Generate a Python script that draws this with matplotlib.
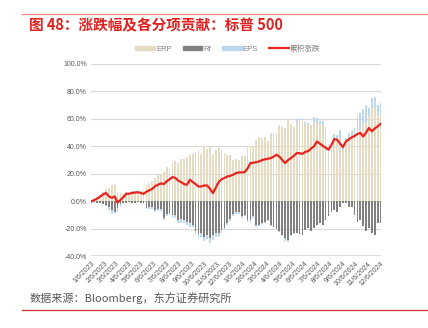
import pandas as pd
import numpy as np
from matplotlib import pyplot as plt
from matplotlib.patches import Patch
from matplotlib.lines import Line2D

plt.rcParams['font.family'] = ['Liberation Sans', 'Noto Sans CJK SC', 'DejaVu Sans']

# weekly observations, % contribution
dates = pd.date_range('2023-01-06', periods=101, freq='7D')

erp = [1, 2, 3, 4, 6, 9, 10, 12, 12, 7,
       6, 5, 6, 6, 7, 7, 7, 7, 8, 12,
       13, 15, 17, 19, 20, 21, 25, 24, 27.8, 29,
       28, 30.7, 31, 32, 34, 34.5, 35, 37, 34.4, 40,
       38, 39.5, 34, 37.5, 38.8, 37.5, 35, 34, 34, 30,
       31, 30, 32.6, 33, 39.5, 40, 40.5, 44.8, 47, 46,
       47, 43.6, 49.7, 50, 50, 55.8, 54, 53, 59.4, 56,
       54, 58, 58, 59, 57, 55.8, 54.5, 58, 57, 56,
       55.8, 53.4, 41, 40, 44.8, 43.6, 46, 37.5, 43.6, 46,
       46, 48, 52, 52, 57, 58, 62, 68, 68, 63,
       63]

rf = [-0.5, -0.5, -1, -1.5, -2, -2.6, -4, -6.3, -7.5, -5,
      -2, -1, -1, -0.5, -1, -1, -0.5, -1, -1, -5,
      -4, -4, -6.3, -6, -6, -12.4, -9, -8.7, -10, -10,
      -13.6, -13, -13.6, -15, -16, -17, -22, -24, -23, -26,
      -24.5, -27, -24.5, -23, -23, -21, -19.6, -16, -13, -9,
      -7.5, -8, -11, -10, -13.6, -13.6, -11, -17, -17, -15.5,
      -14.8, -13.6, -17, -18.5, -20, -22, -24.5, -27, -28, -24.5,
      -23, -23, -24, -24.5, -21, -19.6, -22, -19.6, -17, -16,
      -17, -14, -11, -7.5, -6.3, -7.5, -4, -1, -1.5, -4,
      -4, -10, -14.8, -13.6, -18, -22, -19.6, -23, -24.5, -16,
      -16]

eps = [-0.5, -0.5, 0, 0.5, 1, -0.5, -2.5, -3, -1, -3,
       -2, -1, 0.5, 0.3, 0.3, 0.3, 0.2, 0.2, -1, -1,
       -1.5, -2, -1.5, -1, -1, -1.5, -1.5, -1.5, -2, -2,
       -2.4, -2.5, -2.4, -2.5, -2.5, -2, -2.5, -3.5, -3, -3,
       -3, -3.5, -4, -3, -3, -2, -1.5, -1.5, -1.5, -1.5,
       -1.5, -1.5, -1, -1, -1.5, -2, -1, -1.5, -1, -1,
       -1, -0.5, -1, -0.5, -0.5, -0.5, -1, -2, -2, -1,
       -0.5, 2, 2.5, 2, 1, 1.5, 1, 3.5, 3.6, 2.2,
       2.4, 1, 1, 1.5, 4.5, 5, 6, 1.5, 2.4, 3.7,
       5, 5, 11, 12, 10, 12, 6, 7, 8, 7.4,
       8.6]

cum = [0, 1, 2, 3.5, 5, 6, 3.5, 2.5, 3.5, -1,
       1, 3, 5.4, 5.5, 6, 6.3, 6.6, 6, 5.4, 7,
       8, 9, 11, 12, 13, 12.5, 14.5, 16, 17.6, 17,
       15, 14, 12.5, 12, 15.6, 14, 12.5, 10.7, 10.8, 11.5,
       11.5, 9, 5.9, 10, 14, 16, 17, 18, 18.5, 19.3,
       20.5, 21, 21, 21.2, 24, 27.8, 28, 28.5, 29, 30,
       30.5, 31, 31.4, 32.5, 33.9, 32.5, 30, 27.8, 30, 31.5,
       33, 35.1, 35, 34.5, 36, 36.5, 38.5, 40, 43.6, 42,
       40.4, 39, 37.5, 41, 45.3, 44.8, 42, 39.5, 43.5, 45,
       46.5, 47.5, 49, 49.7, 47.2, 50, 53.4, 50.9, 53, 54.5,
       56.3]

tick_dates = [pd.Timestamp(2023 + m // 12, m % 12 + 1, 6) for m in range(24)]
tick_labels = ['{}/{}/{}'.format(d.month, d.day, d.year) for d in tick_dates]

C_ERP = '#E6DCC4'
C_RF = '#808080'
C_EPS = '#BDD7EE'
C_LINE = '#E8251F'

fig = plt.figure(figsize=(4.28, 3.28), dpi=100)
ax = fig.add_axes([0.213, 0.219, 0.677, 0.586])

erp = np.array(erp)
rf = np.array(rf)
eps = np.array(eps)

# stack positives upward and negatives downward
pos_base = np.maximum(erp, 0) + np.maximum(rf, 0)
neg_base = np.minimum(erp, 0) + np.minimum(rf, 0)
eps_bottom = np.where(eps >= 0, pos_base, neg_base)

w = 4.3
ax.bar(dates, erp, width=w, color=C_ERP, zorder=2)
ax.bar(dates, rf, width=w, color=C_RF, zorder=2)
ax.bar(dates, eps, width=w, bottom=eps_bottom, color=C_EPS, zorder=2)
ax.plot(dates, cum, color=C_LINE, lw=1.6, zorder=3)

ax.set_ylim(-40, 100)
ax.set_yticks(np.arange(-40, 101, 20))
ax.set_yticklabels(['{:.1f}%'.format(v) for v in np.arange(-40, 101, 20)])
ax.set_xlim(dates[0] - pd.Timedelta(days=1), dates[-1] + pd.Timedelta(days=1))
ax.set_xticks(tick_dates)
ax.set_xticklabels(tick_labels, rotation=45, ha='right', rotation_mode='anchor')

ax.grid(axis='y', color='#D9D9D9', lw=0.8, zorder=0)
for s in ax.spines.values():
    s.set_visible(False)
ax.axhline(-40, color='#D9D9D9', lw=1.2, zorder=1)
ax.tick_params(axis='both', length=0, labelsize=5, labelcolor='#595959', pad=3)

handles = [Patch(color=C_ERP), Patch(color=C_RF), Patch(color=C_EPS),
           Line2D([], [], color=C_LINE, lw=1.6)]
fig.legend(handles, ['ERP', 'Rf', 'EPS', '累积涨跌'], loc='center',
           bbox_to_anchor=(0.532, 0.851), ncol=4, frameon=False,
           fontsize=5.5, labelcolor='#7F7F7F', handlelength=2.6, handleheight=0.55,
           columnspacing=1.4, handletextpad=0.15,
           prop={'family': ['Liberation Sans', 'Noto Sans CJK SC'], 'size': 5.5})

fig.add_artist(Line2D([22 / 428, 1], [0.957, 0.957], color='#F08C8C', lw=1.0))
fig.add_artist(Line2D([22 / 428, 1], [0.056, 0.056], color='#D03030', lw=0.9))
fig.text(0.068, 0.924, '图 48：涨跌幅及各分项贡献：标普 500', color='#E0201E',
         fontsize=10.5, fontweight='bold', va='center',
         family=['Noto Sans CJK SC', 'DejaVu Sans'])
fig.text(0.068, 0.092, '数据来源：Bloomberg，东方证券研究所', color='#595959',
         fontsize=8, va='center', family=['Noto Sans CJK SC', 'DejaVu Sans'])

plt.savefig('out.png', dpi=100)
